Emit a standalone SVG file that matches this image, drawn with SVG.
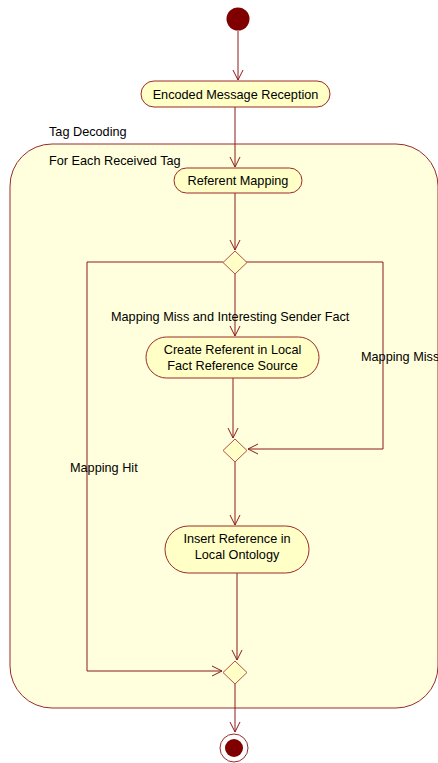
<svg xmlns="http://www.w3.org/2000/svg" width="438" height="763" viewBox="0 0 438 763">
<defs>
<marker id="arr" markerWidth="12" markerHeight="12" refX="10" refY="5" orient="auto" markerUnits="userSpaceOnUse" overflow="visible">
<path d="M0,0 L10,5 L0,10" fill="none" stroke="#8b1a1a" stroke-width="1"/>
</marker>
</defs>
<style>
text{font-family:"Liberation Sans",Arial,sans-serif;font-size:12.7px;fill:#000}
.act{fill:#ffffc6;stroke:#9b2a2a;stroke-width:1}
.dec{fill:#ffffc6;stroke:#b05050;stroke-width:1}
.c{fill:none;stroke:#8b1a1a;stroke-width:1;marker-end:url(#arr)}
.l{fill:none;stroke:#8b1a1a;stroke-width:1}
</style>
<rect width="438" height="763" fill="#fff"/>
<g id="region">
<rect x="10" y="144" width="428" height="564" rx="42" ry="42" fill="#ffffdd" stroke="#9b2a2a"/>
<text x="49" y="136">Tag Decoding</text>
<text x="49" y="165">For Each Received Tag</text>
</g>
<g id="connectors">
<path class="c" d="M238,31 V80"/>
<path class="c" d="M235,107 V167"/>
<path class="c" d="M235,193 V250"/>
<path class="c" d="M235,274 V336"/>
<path class="c" d="M233,378 V438"/>
<path class="c" d="M235,262 H383 V449 H248"/>
<path class="c" d="M235,462 V525"/>
<path class="c" d="M237,573 V660"/>
<path class="c" d="M223,262 H87 V671 H222"/>
<path class="c" d="M235,684 V732"/>
<text x="111" y="321">Mapping Miss and Interesting Sender Fact</text>
<text x="361" y="361">Mapping Miss</text>
<text x="70" y="472">Mapping Hit</text>
</g>
<g id="initial"><circle cx="238" cy="19" r="11.5" fill="#800000"/></g>
<g id="encoded"><rect class="act" x="141" y="81" width="189" height="26" rx="13"/><text x="235.5" y="98.5" text-anchor="middle">Encoded Message Reception</text></g>
<g id="referent"><rect class="act" x="174" y="168" width="128" height="25" rx="12.5"/><text x="238" y="185" text-anchor="middle">Referent Mapping</text></g>
<g id="decision1"><path class="dec" d="M235,251 L247,262.5 L235,274 L223,262.5 Z"/></g>
<g id="create"><rect class="act" x="146" y="337" width="173" height="41" rx="20.5"/><text x="232.5" y="354" text-anchor="middle">Create Referent in Local</text><text x="232.5" y="370" text-anchor="middle">Fact Reference Source</text></g>
<g id="decision2"><path class="dec" d="M235,439 L247,450.5 L235,462 L223,450.5 Z"/></g>
<g id="insert"><rect class="act" x="165" y="526" width="144" height="47" rx="23.5"/><text x="237" y="543" text-anchor="middle">Insert Reference in</text><text x="237" y="559" text-anchor="middle">Local Ontology</text></g>
<g id="decision3"><path class="dec" d="M235,661 L247,672.5 L235,684 L223,672.5 Z"/></g>
<g id="final"><circle cx="234" cy="748" r="14" fill="#fff" stroke="#9b2a2a"/><circle cx="234" cy="748" r="9" fill="#800000"/></g>
</svg>
